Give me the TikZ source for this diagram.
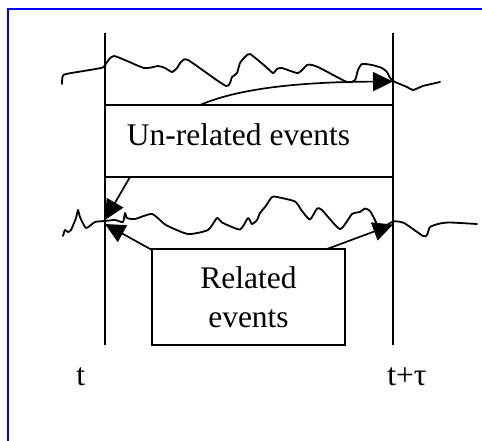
\documentclass[tikz,border=0pt]{standalone}
\usepackage{fontspec}
\setmainfont{Liberation Serif}
\usetikzlibrary{arrows.meta}
\begin{document}
\begin{tikzpicture}[x=1pt,y=-1pt,
  vline/.style={line width=2pt},
  wig/.style={line width=1.8pt, line join=round, line cap=round},
  arr/.style={line width=1.7pt, -{Triangle[length=20pt,width=19pt]}},
  box/.style={draw, line width=2pt, fill=white, inner sep=0pt},
  lbl/.style={font=\fontsize{31.5}{38.5}\selectfont, inner sep=0pt}]
\useasboundingbox (0,0) rectangle (482,440);
\draw[blue, line width=2pt] (8,445) -- (8,9) -- (490,9);
% boxes
\node[box, minimum width=288pt, minimum height=72pt] (unrel) at (249,141) {};
\node[lbl, anchor=base] (unreltext) at (238.5,145) {Un-related events};
\node[box, lbl, minimum width=193pt, minimum height=96pt, align=center] (rel) at (248.5,297) {Related\\events};
% time lines
\coordinate (lt) at (105,33); \coordinate (lb) at (105,345);
\coordinate (rt) at (393,33); \coordinate (rb) at (393,345);
\draw[vline] (lt) -- (lb);
\draw[vline] (rt) -- (rb);
\node[lbl, anchor=base] (tl) at (80.8,385) {t};
\node[lbl, anchor=base] (tr) at (407,385) {t+τ};
% wiggly signals
\draw[wig] plot[smooth, tension=0.35] coordinates {(62,84) (62.5,77) (66,74) (101,68) (105,65) (114,56) (144,68) (158,66) (165,68) (172,72) (177,68) (181,62) (188,60) (226,86) (232,77) (237,73) (240,63) (245,57) (250,54) (265,66) (273,73) (277,69) (282,68) (298,73) (307,65) (312,65) (320,68) (347,82) (355,80) (358,70) (362,64) (372,65) (382,68) (387,72) (389,76) (393,81) (407,87) (413,90) (423,86) (440,82)};
\draw[wig] plot[smooth, tension=0.35] coordinates {(63,236) (65,230) (68,232) (71,230) (76,218) (78,210) (80,217) (86,228) (95,222) (105,221) (115,220) (123,222) (125,213) (127,218) (135,219) (152,214) (166,225) (188,234) (208,230) (217,218) (222,222.5) (240,229.5) (248,218) (252,224) (257,220) (260,213) (265,207) (272,197) (277,197) (295,201.5) (302,211) (310,219.5) (317,208.5) (322,210) (340,229) (352,214) (360,212) (365,208.5) (370,211) (375,220) (380,229) (393,221.5) (404,223) (423,236) (427,235) (430,227) (440,223.5) (450,222.5) (477,224)};
% arrows
\coordinate (ua) at (200,105);
\coordinate (ub) at (130,177);
\coordinate (ra) at (152,250);
\coordinate (rb2) at (327,249);
\coordinate (tipT) at (393,81.5);
\coordinate (tipL1) at (105,220);
\coordinate (tipL2) at (105,224);
\coordinate (tipR) at (393,224.5);
\draw[arr] (ua) .. controls (235,90) and (290,82) .. (tipT);
\draw[arr] (ub) -- (tipL1);
\draw[arr] (ra) -- (tipL2);
\draw[arr] (rb2) -- (tipR);
\end{tikzpicture}
\end{document}
